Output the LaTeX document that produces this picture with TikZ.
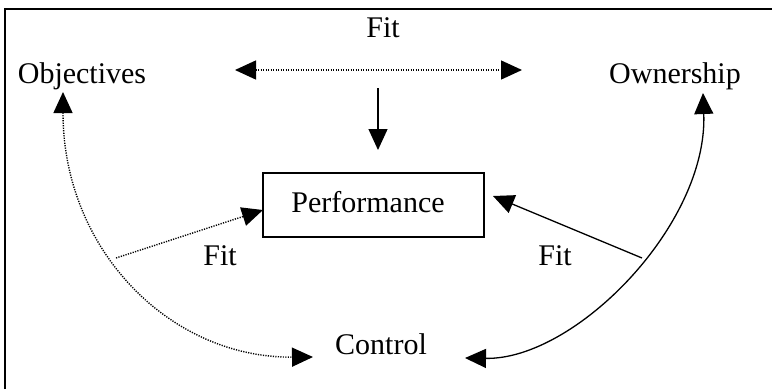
\documentclass[tikz,border=0pt]{standalone}
\usepackage{fontspec}
\setmainfont{Liberation Serif}
\usetikzlibrary{arrows.meta,calc}

\tikzset{
  label text/.style={anchor=base, inner sep=0pt, font=\fontsize{30}{34}\selectfont},
  solid link/.style={line width=1.3pt, -{Triangle[length=21pt,width=19pt]}},
  dotted link/.style={line width=1.4pt, dash pattern=on 1.2pt off 1.3pt, -{Triangle[length=21pt,width=19pt]}},
  both heads/.style={{Triangle[length=21pt,width=19pt]}-{Triangle[length=21pt,width=19pt]}},
  frame line/.style={line width=2pt},
}

\begin{document}
\begin{tikzpicture}[x=1pt, y=-1pt]
  \useasboundingbox (0,0) rectangle (772,389);

  % outer frame (left and top edges)
  \draw[frame line] (5,389) -- (5,9) -- (772,9);

  % labels
  \node[label text] (fittop)   at (383,37)  {Fit};
  \node[label text] (obj)      at (82,83)   {Objectives};
  \node[label text] (own)      at (675,83)  {Ownership};
  \node[label text] (ctl)      at (381,354) {Control};
  \node[label text] (fitleft)  at (220,265) {Fit};
  \node[label text] (fitright) at (555,265) {Fit};

  % performance box
  \node[draw, line width=1.3pt, minimum width=221pt, minimum height=64pt, inner sep=0pt] (perf) at (373.5,205) {};
  \node[label text] (perftext) at (368,212) {Performance};

  % connector end points
  \coordinate (fitL)   at (235,70);
  \coordinate (fitR)   at (522,70);
  \coordinate (downA)  at (378,88);
  \coordinate (downB)  at (378,150);
  \coordinate (objtip) at (63,92);
  \coordinate (ctlL)   at (313,357);
  \coordinate (owntip) at (703,93);
  \coordinate (ctlR)   at (465,358);
  \coordinate (leftfoot)  at (116,258);
  \coordinate (rightfoot) at (642,258);
  \coordinate (perfL)  at (263,210);
  \coordinate (perfR)  at (493,196);

  % fit between objectives and ownership
  \draw[dotted link, both heads] (fitL) -- (fitR);
  \draw[solid link] (downA) -- (downB);

  % objectives <-> control (dotted arc)
  \draw[dotted link, both heads]
    (objtip) .. controls (63,250) and (170,358) .. (ctlL);
  \draw[dotted link] (leftfoot) -- (perfL);

  % ownership <-> control (solid arc)
  \draw[solid link, both heads]
    (owntip) .. controls (708,225) and (575,360) .. (ctlR);
  \draw[solid link] (rightfoot) -- (perfR);
\end{tikzpicture}
\end{document}
